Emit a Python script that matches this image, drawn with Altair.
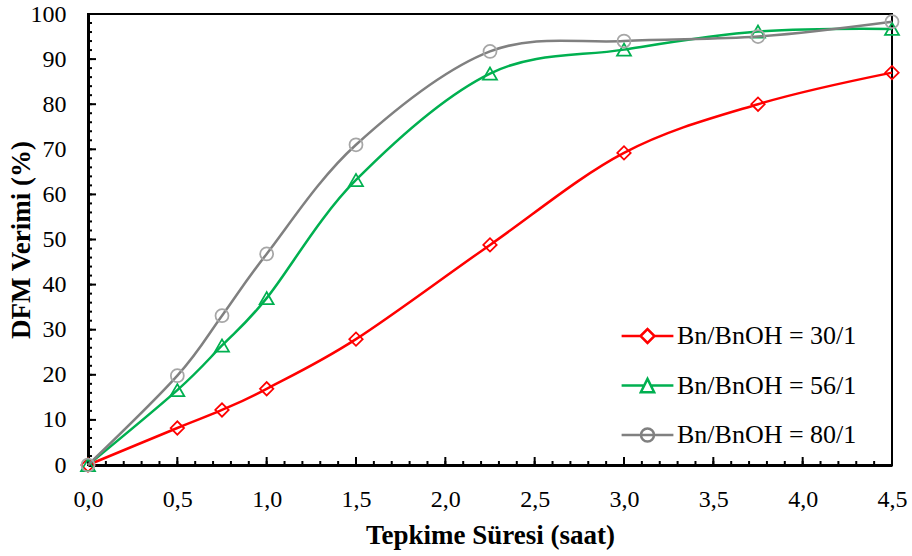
import altair as alt
import pandas as pd

# Reaction time (hours) and DFM yield (%) for each Bn/BnOH ratio
hours = [0.0, 0.5, 0.75, 1.0, 1.5, 2.25, 3.0, 3.75, 4.5]
yield_30 = [0.0, 8.2, 12.2, 16.9, 27.9, 48.8, 69.2, 80.0, 87.0]
yield_56 = [0.0, 16.6, 26.5, 37.0, 63.2, 86.8, 92.1, 96.1, 96.7]
yield_80 = [0.0, 19.8, 33.1, 46.8, 71.0, 91.7, 94.0, 95.0, 98.3]

series_names = ["Bn/BnOH = 30/1", "Bn/BnOH = 56/1", "Bn/BnOH = 80/1"]
line_colors = ["#FF0000", "#00B050", "#808080"]
marker_colors = ["#FF0000", "#00B050", "#A6A6A6"]
marker_shapes = ["diamond", "triangle-up", "circle"]
marker_sizes = [180, 196, 169]

x_major = [0.0, 0.5, 1.0, 1.5, 2.0, 2.5, 3.0, 3.5, 4.0, 4.5]
x_minor = [round(i * 0.1, 1) for i in range(46)]
y_major = list(range(0, 101, 10))
y_minor = list(range(0, 101, 2))

# Legend glyphs: a short line segment with the series marker in the middle
legend_paths = [
    "M-3.7,0L-1,0M1,0L3.7,0M-1,0L0,-1L1,0L0,1Z",
    "M-3.7,0L-0.48,0M0.48,0L3.7,0M0,-0.95L0.95,0.95L-0.95,0.95Z",
    "M-3.7,0L3.7,0M-0.93,0A0.93,0.93 0 1,0 0.93,0A0.93,0.93 0 1,0 -0.93,0",
]

rows = []
for name, values in zip(series_names, [yield_30, yield_56, yield_80]):
    for h, v in zip(hours, values):
        rows.append({"series": name, "hours": h, "yield": v})
df = pd.DataFrame(rows)

FONT = "Liberation Serif"
W, H = 804, 451

x_scale = alt.Scale(domain=[0, 4.5], nice=False, zero=False)
y_scale = alt.Scale(domain=[0, 100], nice=False)

# Main axes: domain line, labels and titles (ticks are drawn inward below)
x_main = alt.Axis(
    orient="bottom", values=x_major, ticks=False, tickSize=0, grid=False,
    domain=True, domainColor="black", domainWidth=3,
    labelExpr="replace(format(datum.value, '.1f'), '.', ',')",
    labelFont=FONT, labelFontSize=24, labelColor="black", labelPadding=22,
    labelOverlap=False, labelFlush=False, labelBound=False,
    title="Tepkime Süresi (saat)", titleFont=FONT, titleFontSize=27,
    titleFontWeight="bold", titleColor="black",
    titleX=W / 2, titleY=78, titleBaseline="alphabetic", titleAlign="center",
)
y_main = alt.Axis(
    orient="left", values=y_major, ticks=False, tickSize=0, grid=False,
    domain=True, domainColor="black", domainWidth=3, format="d",
    labelFont=FONT, labelFontSize=24, labelColor="black", labelPadding=22,
    labelOverlap=False, labelFlush=False, labelBound=False,
    title="DFM Verimi (%)", titleFont=FONT, titleFontSize=27,
    titleFontWeight="bold", titleColor="black", titleAngle=270,
    titleX=-59, titleY=H / 2, titleBaseline="alphabetic", titleAlign="center",
)


def x_ticks(values, length, axis=None):
    return (
        alt.Chart(pd.DataFrame({"t": values}))
        .mark_rule(color="black", strokeWidth=2)
        .encode(
            x=alt.X("t:Q", scale=x_scale, axis=axis),
            y=alt.value(H),
            y2=alt.value(H - length),
        )
    )


def y_ticks(values, length, axis=None):
    return (
        alt.Chart(pd.DataFrame({"t": values}))
        .mark_rule(color="black", strokeWidth=2)
        .encode(
            y=alt.Y("t:Q", scale=y_scale, axis=axis),
            x=alt.value(0),
            x2=alt.value(length),
        )
    )


# The first layer that uses each channel carries that channel's axis
layers = [
    x_ticks(x_minor, 4, x_main),
    x_ticks(x_major, 8),
    y_ticks(y_minor, 4, y_main),
    y_ticks(y_major, 8),
]

for i, name in enumerate(series_names):
    sub = alt.Chart(df).transform_filter(alt.datum.series == name)
    enc = dict(
        x=alt.X("hours:Q", scale=x_scale, axis=None),
        y=alt.Y("yield:Q", scale=y_scale, axis=None),
    )
    layers.append(
        sub.mark_line(interpolate="cardinal", color=line_colors[i],
                      strokeWidth=2.5).encode(**enc)
    )
    layers.append(
        sub.mark_point(shape=marker_shapes[i], size=marker_sizes[i],
                       filled=False, color=marker_colors[i],
                       strokeWidth=1.75, opacity=1).encode(**enc)
    )

legend_props = dict(
    orient="none", legendX=546.5, legendY=309, title=None,
    labelFont=FONT, labelFontSize=26, labelColor="black", labelLimit=0,
    labelOffset=16.5, rowPadding=23.5, padding=0,
    symbolSize=196, symbolStrokeWidth=2.5, symbolOpacity=1,
)

legend_layer = (
    alt.Chart(df)
    .transform_filter("false")
    .mark_point(filled=False, size=196, strokeWidth=2.5)
    .encode(
        x=alt.X("hours:Q", scale=x_scale, axis=None),
        y=alt.Y("yield:Q", scale=y_scale, axis=None),
        color=alt.Color("series:N",
                        scale=alt.Scale(domain=series_names, range=line_colors),
                        legend=alt.Legend(**legend_props)),
        shape=alt.Shape("series:N",
                        scale=alt.Scale(domain=series_names, range=legend_paths),
                        legend=alt.Legend(**legend_props)),
    )
)
layers.append(legend_layer)

chart = (
    alt.layer(*layers)
    .resolve_axis(x="independent", y="independent")
    .properties(
        width=W, height=H,
        padding={"left": 88, "top": 14, "right": 20, "bottom": 91},
        autosize=alt.AutoSizeParams(type="none"),
        background="white",
    )
    .configure(font=FONT)
    .configure_axis(labelFont=FONT, titleFont=FONT)
    .configure_legend(labelFont=FONT)
    .configure_view(stroke="black", strokeWidth=2)
)

chart.save("out.html", embed_options={"renderer": "svg", "actions": False})
